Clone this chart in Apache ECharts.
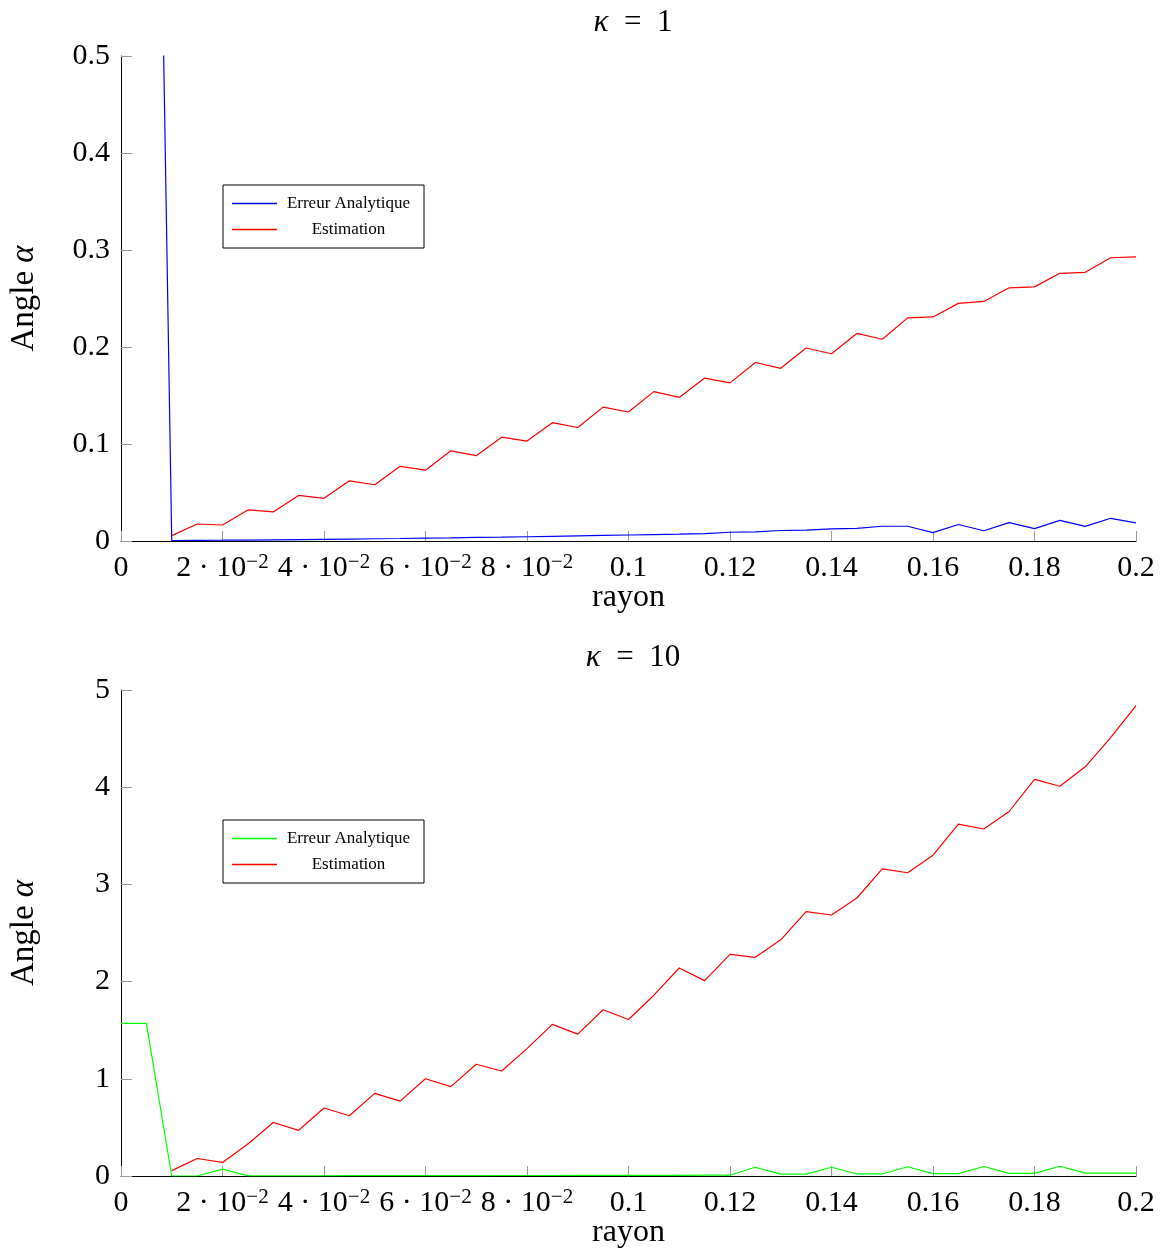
<!DOCTYPE html>
<html>
<head>
<meta charset="utf-8">
<script src="https://cdn.jsdelivr.net/npm/echarts@6/dist/echarts.min.js"></script>
<style>
html, body { margin: 0; padding: 0; background: #fff; }
#chart { width: 1171px; height: 1252px; }
</style>
</head>
<body>
<div id="chart"></div>
<script>
// rayon (x) sampled every 0.005
const radius = [0, 0.005, 0.01, 0.015, 0.02, 0.025, 0.03, 0.035, 0.04, 0.045,
  0.05, 0.055, 0.06, 0.065, 0.07, 0.075, 0.08, 0.085, 0.09, 0.095,
  0.1, 0.105, 0.11, 0.115, 0.12, 0.125, 0.13, 0.135, 0.14, 0.145,
  0.15, 0.155, 0.16, 0.165, 0.17, 0.175, 0.18, 0.185, 0.19, 0.195, 0.2];

// kappa = 1
const errTop = [1.5708, 1.5708, 0.0005, 0.0007, 0.0008, 0.0010, 0.0012, 0.0014, 0.0017, 0.0020,
  0.0023, 0.0026, 0.0030, 0.0033, 0.0037, 0.0040, 0.0044, 0.0048, 0.0052, 0.0057,
  0.0062, 0.0066, 0.0071, 0.0077, 0.0090, 0.0095, 0.0108, 0.0112, 0.0124, 0.0130,
  0.0152, 0.0152, 0.0086, 0.0170, 0.0106, 0.0190, 0.0127, 0.0213, 0.0151, 0.0234, 0.0186];
const estTop = [null, null, 0.0055, 0.0175, 0.0165, 0.032, 0.030, 0.047, 0.044, 0.062,
  0.058, 0.077, 0.073, 0.093, 0.088, 0.107, 0.103, 0.122, 0.117, 0.138,
  0.133, 0.154, 0.148, 0.168, 0.163, 0.184, 0.178, 0.199, 0.193, 0.214,
  0.208, 0.230, 0.231, 0.245, 0.247, 0.261, 0.262, 0.276, 0.277, 0.292, 0.293];

// kappa = 10
const errBottom = [1.5708, 1.5708, 0, 0, 0.07, 0.001, 0.002, 0.002, 0.002, 0.003,
  0.003, 0.003, 0.004, 0.004, 0.004, 0.005, 0.005, 0.005, 0.006, 0.006,
  0.006, 0.007, 0.007, 0.008, 0.008, 0.09, 0.02, 0.02, 0.09, 0.021,
  0.021, 0.095, 0.024, 0.024, 0.098, 0.027, 0.027, 0.1, 0.03, 0.03, 0.03];
const estBottom = [null, null, 0.055, 0.18, 0.14, 0.33, 0.55, 0.47, 0.70, 0.62,
  0.85, 0.77, 1.00, 0.92, 1.15, 1.08, 1.31, 1.56, 1.46, 1.71,
  1.61, 1.86, 2.14, 2.01, 2.28, 2.25, 2.43, 2.72, 2.685, 2.86,
  3.16, 3.12, 3.30, 3.62, 3.57, 3.75, 4.08, 4.01, 4.21, 4.51, 4.84];

const xTickLabels = ['0', '2·10^-2', '4·10^-2', '6·10^-2', '8·10^-2', '0.1',
  '0.12', '0.14', '0.16', '0.18', '0.2'];

const font = '"Liberation Serif", "Times New Roman", serif';

function pairs(xs, ys) {
  const out = [];
  xs.forEach((x, i) => { if (ys[i] !== null) out.push([x, ys[i]]); });
  return out;
}

function tickText(label) {
  const p = label.split('^');
  if (p.length === 1) return '{m|' + p[0] + '}';
  return '{m|' + p[0].replace('·', ' · ') + '}{e|' + p[1].replace('-', '\u2212') + '}';
}

function makeX(gridIndex) {
  return {
    type: 'value', gridIndex: gridIndex, min: 0, max: 0.2, interval: 0.02,
    name: 'rayon', nameLocation: 'middle', nameGap: 41, nameMoveOverlap: false,
    nameTextStyle: { fontFamily: font, fontSize: 32, color: '#000' },
    axisLine: { show: true, onZero: false, lineStyle: { color: '#000', width: 1 } },
    axisTick: { show: true, inside: true, length: 10, lineStyle: { color: '#999' } },
    axisLabel: {
      margin: 11, color: '#000',
      formatter: v => tickText(xTickLabels[Math.round(v / 0.02)]),
      rich: {
        m: { fontFamily: font, fontSize: 30, lineHeight: 32, color: '#000' },
        e: { fontFamily: font, fontSize: 21, lineHeight: 21, verticalAlign: 'top', color: '#000' }
      }
    },
    splitLine: { show: false }
  };
}

function makeY(gridIndex, max, interval) {
  return {
    type: 'value', gridIndex: gridIndex, min: 0, max: max, interval: interval,
    name: '{t|Angle }{i|α}', nameLocation: 'middle', nameGap: 80, nameMoveOverlap: false,
    nameTextStyle: {
      rich: {
        t: { fontFamily: font, fontSize: 33, color: '#000' },
        i: { fontFamily: font, fontSize: 33, fontStyle: 'italic', color: '#000' }
      }
    },
    axisLine: { show: true, onZero: false, lineStyle: { color: '#000', width: 1 } },
    axisTick: { show: true, inside: true, length: 11, lineStyle: { color: '#999' } },
    axisLabel: { margin: 11, fontFamily: font, fontSize: 30, color: '#000' },
    splitLine: { show: false }
  };
}

function makeLegend(top, names) {
  return {
    orient: 'vertical', left: 223, top: top, data: names,
    borderColor: '#000', borderWidth: 1, padding: [10, 9, 10, 9],
    itemWidth: 45, itemHeight: 1.4, itemGap: 9, icon: 'rect', selectedMode: false,
    formatter: name => '{t|' + name.split('|')[0] + '}',
    textStyle: {
      rich: { t: { fontFamily: font, fontSize: 17, lineHeight: 17, width: 133, align: 'center', color: '#000' } }
    }
  };
}

function makeTitle(top, k) {
  return {
    text: '{i|κ}{n|  =  ' + k + '}', left: 628, top: top, textAlign: 'center',
    textStyle: {
      fontWeight: 'normal',
      rich: {
        i: { fontFamily: font, fontSize: 31, fontStyle: 'italic', fontWeight: 'normal', color: '#000' },
        n: { fontFamily: font, fontSize: 31, fontWeight: 'normal', color: '#000' }
      }
    }
  };
}

function lineSeries(name, idx, color, data) {
  return {
    name: name, type: 'line', xAxisIndex: idx, yAxisIndex: idx,
    data: data, color: color, symbol: 'none', clip: true,
    lineStyle: { color: color, width: 1.2 }
  };
}

const option = {
  backgroundColor: '#fff',
  animation: false,
  title: [makeTitle(2, 1), makeTitle(637, 10)],
  legend: [
    makeLegend(185, ['Erreur Analytique|1', 'Estimation|1']),
    makeLegend(820, ['Erreur Analytique|10', 'Estimation|10'])
  ],
  grid: [
    { left: 121, top: 56, width: 1015, height: 485, outerBoundsMode: 'none' },
    { left: 121, top: 690, width: 1015, height: 486, outerBoundsMode: 'none' }
  ],
  xAxis: [makeX(0), makeX(1)],
  yAxis: [makeY(0, 0.5, 0.1), makeY(1, 5, 1)],
  series: [
    lineSeries('Erreur Analytique|1', 0, '#0000ff', pairs(radius, errTop)),
    lineSeries('Estimation|1', 0, '#ff0000', pairs(radius, estTop)),
    lineSeries('Erreur Analytique|10', 1, '#00ff00', pairs(radius, errBottom)),
    lineSeries('Estimation|10', 1, '#ff0000', pairs(radius, estBottom))
  ]
};

const mychart = echarts.init(document.getElementById('chart'));
mychart.setOption(option);
window.addEventListener('resize', function () {
  mychart.resize();
});
</script>
</body>
</html>
